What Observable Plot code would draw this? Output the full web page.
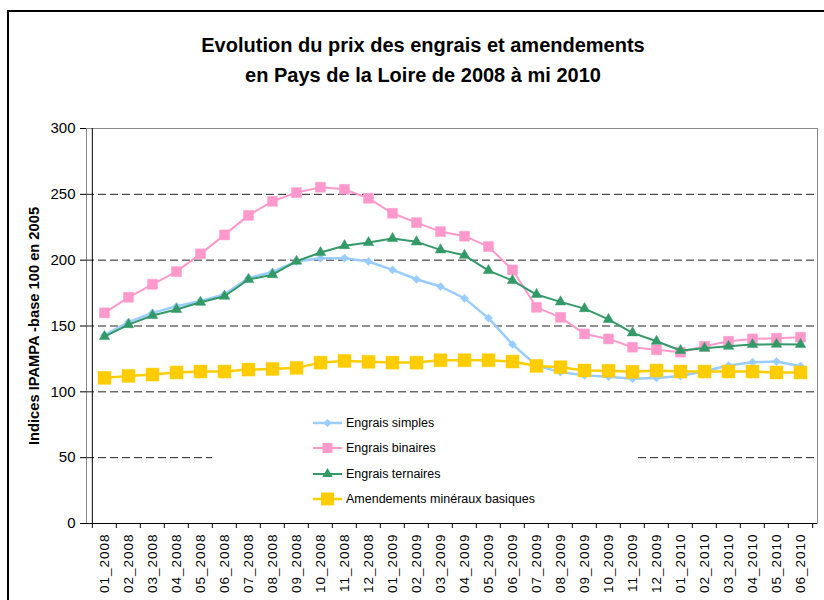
<!DOCTYPE html>
<html>
<head>
<meta charset="utf-8">
<script src="https://cdn.jsdelivr.net/npm/d3@7"></script>
<script src="https://cdn.jsdelivr.net/npm/@observablehq/plot@0.6"></script>
<style>
  body { margin: 0; overflow: hidden; background: #fff; }
  #wrap { position: relative; width: 824px; height: 600px; font-family: "Liberation Sans", Arial, sans-serif; overflow: hidden; }
  #chart { position: absolute; left: 0; top: 0; }
  #chart g[aria-label="x-axis tick label"] text { letter-spacing: 1px; }
  .title { position: absolute; left: 0; width: 846px; top: 30px; text-align: center; font-weight: bold; font-size: 20px; line-height: 30px; color: #000; }
  .border { position: absolute; left: 7px; top: 10px; width: 860px; height: 640px; border: 2px solid #000; box-sizing: border-box; }
  #legend { position: absolute; left: 212px; top: 405px; width: 426px; height: 108px; background: #fff; }
  .item { position: absolute; left: 100px; height: 20px; display: flex; align-items: center; font-size: 12.5px; color: #000; white-space: nowrap; }
  .item svg { margin-right: 3px; }
</style>
</head>
<body>
<div id="wrap">
  <div class="border"></div>
  <div id="chart"></div>
  <div class="title">Evolution du prix des engrais et amendements<br>en Pays de la Loire de 2008 à mi 2010</div>
  <div id="legend"></div>
</div>
<script>
const months = ["01_2008","02_2008","03_2008","04_2008","05_2008","06_2008","07_2008","08_2008","09_2008","10_2008","11_2008","12_2008",
  "01_2009","02_2009","03_2009","04_2009","05_2009","06_2009","07_2009","08_2009","09_2009","10_2009","11_2009","12_2009",
  "01_2010","02_2010","03_2010","04_2010","05_2010","06_2010"];

const engraisSimples = [143, 153, 160, 165, 169, 174, 186.5, 191, 199, 201.5, 201.5, 199,
  192.6, 185.5, 180, 171, 156, 136, 120, 115, 112.5, 111.5, 110, 110.5,
  112, 115.6, 120, 122.5, 123, 119.5];
const engraisBinaires = [160, 171.8, 181.7, 191.3, 204.8, 219.2, 234, 244.7, 251.3, 255.4, 253.8, 247,
  235.6, 228.5, 221.7, 218.2, 210.3, 192.6, 164.2, 156.6, 144, 140.2, 133.9, 131.9,
  130.1, 134.6, 138.4, 140.2, 140.7, 141.5];
const engraisTernaires = [142, 151, 158, 162.5, 168, 172.6, 185.3, 189, 199.2, 205.8, 211, 213.4,
  216.4, 213.9, 207.8, 203.7, 192.1, 184.5, 173.9, 168.3, 163.2, 155, 144.8, 138.4,
  131.4, 133.1, 134.6, 135.9, 136.1, 135.9];
const amendements = [110.6, 112.1, 113.1, 114.7, 115.4, 115.4, 116.9, 117.4, 118.2, 122.2, 123.5, 122.8,
  122.2, 122.2, 124, 124, 124, 123, 119.7, 118.7, 116.2, 116, 115.2, 116.2,
  115.4, 115.4, 115.4, 115.4, 114.7, 114.7];

const seriesNames = ["Engrais simples", "Engrais binaires", "Engrais ternaires", "Amendements minéraux basiques"];
const seriesColors = ["#99CCFF", "#FF99CC", "#339966", "#FFCC00"];
const seriesSymbols = ["diamond2", "square", "triangle", "square"];
const seriesR = [3.7, 5.6, 3.9, 7.3];
const seriesWidth = [2.5, 2, 2, 2.5];
const yTicks = [0, 50, 100, 150, 200, 250, 300];
const gridValues = [50, 100, 150, 200, 250];
const yLabel = "Indices IPAMPA -base 100 en 2005";

const allValues = [engraisSimples, engraisBinaires, engraisTernaires, amendements];
const series = allValues.map((vals, s) => vals.map((v, i) => ({month: months[i], value: v, s})));

const W = 824, H = 600, mL = 86, mR = 7, mT = 128, mB = 77;
const bw = (W - mL - mR) / months.length;

const marks = [
  Plot.frame({stroke: "#888", strokeWidth: 1}),
  Plot.ruleY(gridValues, {stroke: "#222", strokeDasharray: "8,4"}),
  Plot.axisY({ticks: yTicks, tickSize: 6, tickPadding: 5, fontSize: 15, label: null, anchor: "left"}),
  Plot.axisX({tickRotate: -90, tickSize: 0, tickPadding: 10, fontSize: 13.5, label: null}),
  Plot.ruleX(months, {x: d => d, y1: 0, y2: -3.8, dx: -bw / 2, stroke: "#000"}),
  Plot.ruleX([months[months.length - 1]], {x: d => d, y1: 0, y2: -3.8, dx: bw / 2, stroke: "#000"}),
  Plot.ruleX([months[0]], {x: d => d, dx: -bw / 2, stroke: "#000"}),
  Plot.ruleY([0], {stroke: "#000"}),
  Plot.text([yLabel], {text: d => d, frameAnchor: "left", textAnchor: "middle", lineAnchor: "middle", rotate: -90, dx: -52, fontWeight: "bold", fontSize: 14.7})
];
series.forEach((data, s) => {
  marks.push(Plot.line(data, {x: "month", y: "value", stroke: seriesColors[s], strokeWidth: seriesWidth[s]}));
  marks.push(Plot.dot(data, {x: "month", y: "value", symbol: seriesSymbols[s], r: seriesR[s], fill: seriesColors[s], stroke: seriesColors[s], strokeWidth: 0.5}));
});

const chart = Plot.plot({
  width: W, height: H,
  marginLeft: mL, marginRight: mR, marginTop: mT, marginBottom: mB,
  style: {fontFamily: "Liberation Sans, Arial, sans-serif", background: "transparent", color: "#000", overflow: "visible"},
  x: {type: "point", domain: months, padding: 0.5, axis: null},
  y: {domain: [0, 300], axis: null},
  marks
});
document.getElementById("chart").appendChild(chart);

// legend
const legend = document.getElementById("legend");
const legendY = [8, 33, 59, 84];
const symbolMap = {diamond2: d3.symbolDiamond2, square: d3.symbolSquare, triangle: d3.symbolTriangle};
seriesNames.forEach((name, s) => {
  const item = document.createElement("div");
  item.className = "item";
  item.style.top = legendY[s] + "px";
  const path = d3.symbol(symbolMap[seriesSymbols[s]], Math.PI * seriesR[s] * seriesR[s])();
  item.innerHTML = `<svg width="31" height="20"><line x1="1" x2="30" y1="10" y2="10" stroke="${seriesColors[s]}" stroke-width="${seriesWidth[s]}"/><path d="${path}" transform="translate(15.5,10)" fill="${seriesColors[s]}"/></svg><span>${name}</span>`;
  legend.appendChild(item);
});
</script>
</body>
</html>
